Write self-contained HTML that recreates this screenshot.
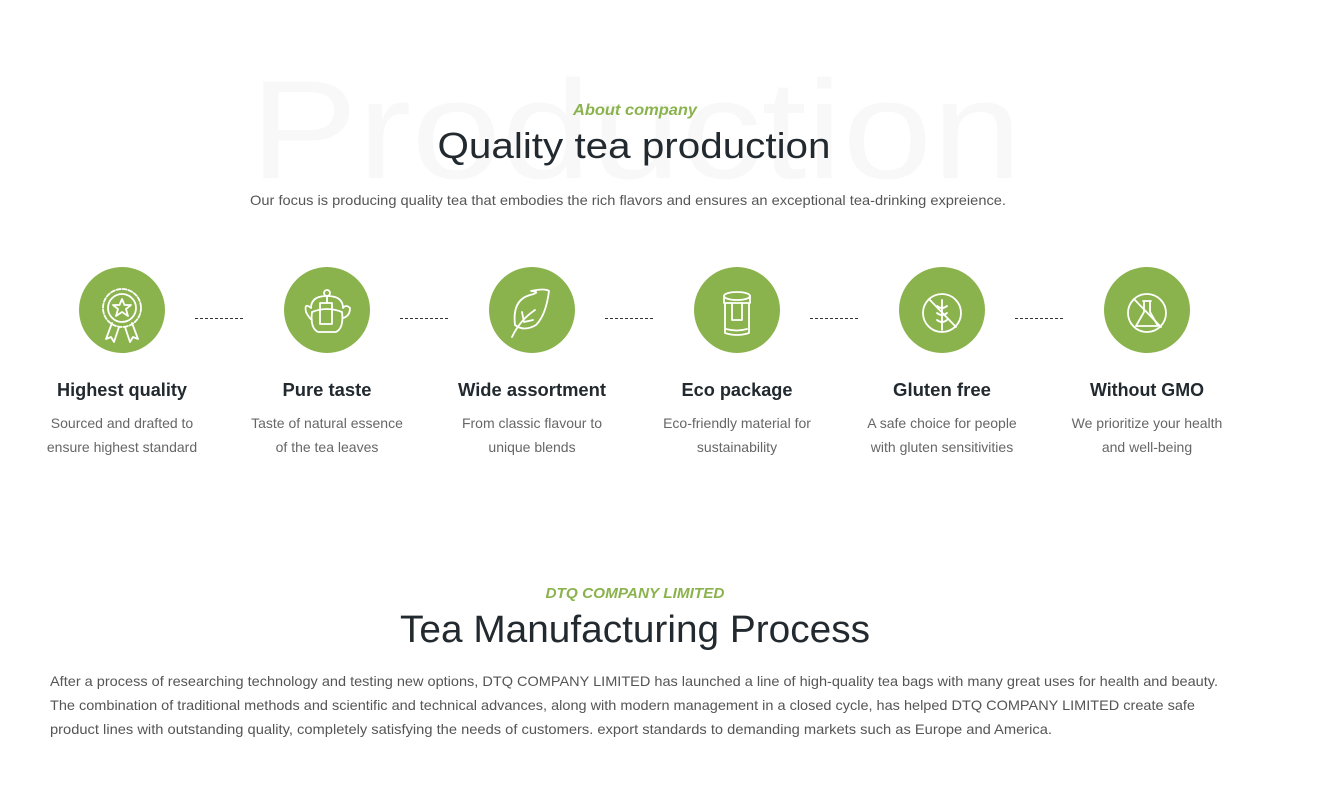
<!DOCTYPE html>
<html><head><meta charset="utf-8"><style>
html,body{margin:0;padding:0;background:#fff;}
svg{display:block}
text{font-family:"Liberation Sans",sans-serif}
</style></head><body>
<svg width="1319" height="792" viewBox="0 0 1319 792" xmlns="http://www.w3.org/2000/svg">
<text x="250" y="178" font-size="140" fill="#f8f8f8" textLength="772" lengthAdjust="spacingAndGlyphs">Production</text>
<text x="635" y="115" font-size="16" font-style="italic" font-weight="bold" fill="#8ab34d" text-anchor="middle" textLength="124" lengthAdjust="spacingAndGlyphs">About company</text>
<text x="634" y="158" font-size="36" fill="#232a2f" text-anchor="middle" textLength="393" lengthAdjust="spacingAndGlyphs" font-weight="500">Quality tea production</text>
<text x="628" y="205" font-size="14" fill="#555" text-anchor="middle" textLength="756" lengthAdjust="spacingAndGlyphs">Our focus is producing quality tea that embodies the rich flavors and ensures an exceptional tea-drinking expreience.</text>

<g fill="#8ab34d">
<circle cx="122" cy="310" r="43"/><circle cx="327" cy="310" r="43"/><circle cx="532" cy="310" r="43"/>
<circle cx="737" cy="310" r="43"/><circle cx="942" cy="310" r="43"/><circle cx="1147" cy="310" r="43"/>
</g>
<g stroke="#333" stroke-width="1" stroke-dasharray="3,2">
<line x1="195" y1="318.5" x2="245" y2="318.5"/><line x1="400" y1="318.5" x2="450" y2="318.5"/>
<line x1="605" y1="318.5" x2="655" y2="318.5"/><line x1="810" y1="318.5" x2="860" y2="318.5"/>
<line x1="1015" y1="318.5" x2="1065" y2="318.5"/>
</g>
<g fill="none" stroke="#fff" stroke-width="1.8" stroke-linejoin="round" stroke-linecap="round">
<circle cx="122" cy="308" r="19" stroke-dasharray="4,2"/><circle cx="122" cy="308" r="14"/>
<polygon points="122,299 124.5,305 131,305 126,309 128,316 122,312 116,316 118,309 113,305 119.5,305"/>
<path d="M112 323 L106 339 L111 337 L114 342 L119 327 M132 323 L138 339 L133 337 L130 342 L125 327"/>
<circle cx="327" cy="293" r="3"/>
<path d="M311 308 Q311 296 327 296 Q343 296 343 308 Q346 304 350 308 Q350 316 343 318 M311 308 Q304 302 306 312 Q309 318 312 320 M312 312 Q310 328 318 332 L336 332 Q344 328 342 312 Q327 306 312 312"/>
<rect x="320" y="303" width="12" height="21"/><line x1="327" y1="296" x2="327" y2="303"/>
<path d="M512 337 Q520 320 535 310 M515 325 Q512 300 530 295 Q542 292 531 291 Q545 288 549 291 Q546 315 536 325 Q524 332 515 325 M522 312 L524 322 M524 322 L533 320"/>
<ellipse cx="737" cy="296" rx="13" ry="4"/><path d="M724 296 L724 303 L750 303 L750 296 M725 303 L725 333 Q737 337 749 333 L749 303 M732 303 L732 320 L742 320 L742 303 M726 329 Q737 332 747 329"/>
<circle cx="942" cy="313" r="19"/><line x1="929" y1="299" x2="956" y2="327"/>
<path d="M942 300 L942 330 M937 306 Q942 310 947 306 M937 313 Q942 317 947 313 M937 320 Q942 324 947 320"/>
<circle cx="1147" cy="313" r="19"/><line x1="1134" y1="299" x2="1161" y2="327"/>
<path d="M1143 301 L1151 301 M1144 301 L1144 312 L1136 326 L1158 326 L1150 312 L1150 301"/>
</g>

<g font-size="18" fill="#232a2f" text-anchor="middle" font-weight="bold">
<text x="122" y="396" textLength="130" lengthAdjust="spacingAndGlyphs">Highest quality</text>
<text x="327" y="396" textLength="89" lengthAdjust="spacingAndGlyphs">Pure taste</text>
<text x="532" y="396" textLength="148" lengthAdjust="spacingAndGlyphs">Wide assortment</text>
<text x="737" y="396" textLength="111" lengthAdjust="spacingAndGlyphs">Eco package</text>
<text x="942" y="396" textLength="98" lengthAdjust="spacingAndGlyphs">Gluten free</text>
<text x="1147" y="396" textLength="114" lengthAdjust="spacingAndGlyphs">Without GMO</text>
</g>
<g font-size="14" fill="#666" text-anchor="middle">
<text x="122" y="428">Sourced and drafted to</text><text x="122" y="452">ensure highest standard</text>
<text x="327" y="428">Taste of natural essence</text><text x="327" y="452">of the tea leaves</text>
<text x="532" y="428">From classic flavour to</text><text x="532" y="452">unique blends</text>
<text x="737" y="428">Eco-friendly material for</text><text x="737" y="452">sustainability</text>
<text x="942" y="428">A safe choice for people</text><text x="942" y="452">with gluten sensitivities</text>
<text x="1147" y="428">We prioritize your health</text><text x="1147" y="452">and well-being</text>
</g>

<text x="635" y="598" font-size="15" font-style="italic" font-weight="bold" fill="#8ab34d" text-anchor="middle" textLength="179" lengthAdjust="spacingAndGlyphs">DTQ COMPANY LIMITED</text>
<text x="635" y="642" font-size="38" fill="#232a2f" text-anchor="middle" textLength="470" lengthAdjust="spacingAndGlyphs">Tea Manufacturing Process</text>
<g font-size="14" fill="#555">
<text x="50" y="686" textLength="1168" lengthAdjust="spacingAndGlyphs">After a process of researching technology and testing new options, DTQ COMPANY LIMITED has launched a line of high-quality tea bags with many great uses for health and beauty.</text>
<text x="50" y="710" textLength="1145" lengthAdjust="spacingAndGlyphs">The combination of traditional methods and scientific and technical advances, along with modern management in a closed cycle, has helped DTQ COMPANY LIMITED create safe</text>
<text x="50" y="734" textLength="1002" lengthAdjust="spacingAndGlyphs">product lines with outstanding quality, completely satisfying the needs of customers. export standards to demanding markets such as Europe and America.</text>
</g>
</svg>
</body></html>
